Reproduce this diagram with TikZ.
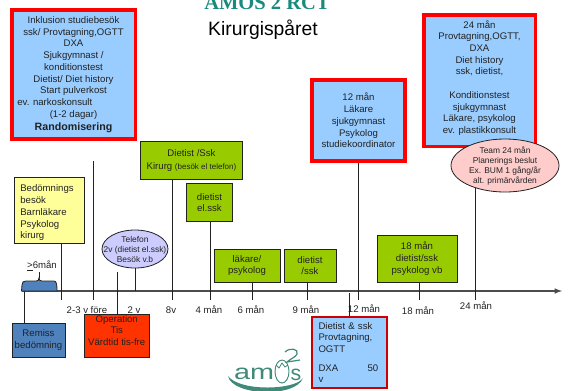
\documentclass[tikz,border=0pt]{standalone}
\usepackage{fontspec}
\setmainfont{Liberation Sans}
\usepackage{amsmath,amssymb}
\usetikzlibrary{arrows,shapes.geometric}

\definecolor{boxblue}{HTML}{99CCFF}
\definecolor{boxgreen}{HTML}{99CC00}
\definecolor{boxyellow}{HTML}{FFFF99}
\definecolor{boxlilac}{HTML}{CCCCFF}
\definecolor{boxpink}{HTML}{FFCCCC}
\definecolor{boxsteel}{HTML}{4F81BD}
\definecolor{boxorange}{HTML}{FF3300}
\definecolor{amosteal}{HTML}{1B8A7E}
\definecolor{logogreen}{HTML}{3F8A78}
\definecolor{inkgrey}{HTML}{222222}

% text of an ellipse, takes no room so the ellipse keeps its size
\newcommand{\ovaltext}[1]{\smash{\raisebox{-2.6pt}{\makebox[0pt]{\begin{tabular}{@{}c@{}}#1\end{tabular}}}}}

\tikzset{
  boxtext/.style={font=\fontsize{7.2}{8.8}\selectfont, text=inkgrey, align=center, inner sep=0pt},
  redbox/.style={boxtext, draw=red, line width=2.6pt, fill=boxblue},
  greenbox/.style={boxtext, draw=inkgrey, line width=0.7pt, fill=boxgreen},
  plainbox/.style={boxtext, draw=inkgrey, line width=0.7pt},
  oval/.style={boxtext, ellipse, draw=inkgrey, line width=0.6pt, font=\fontsize{6.3}{7.5}\selectfont},
  time/.style={boxtext, text=inkgrey},
  tick/.style={draw=inkgrey, line width=0.7pt},
}

\begin{document}
\begin{tikzpicture}[x=0.75pt,y=-0.75pt]
        \useasboundingbox (0,0) rectangle (570,390);

        \node[font=\fontsize{15.4}{18}\bfseries\selectfont, text=amosteal, anchor=base] (amos) at (267,9) {\fontspec{Liberation Serif}AMOS 2 RCT};
        \node[font=\fontsize{14.5}{16}\selectfont, text=black] (title) at (263,30) {Kirurgispåret};

        \node[redbox, minimum width=92.6pt, minimum height=97pt] (inklusion) at (73.5,74.5) {Inklusion  studiebesök\\ssk/ Provtagning,OGTT\\DXA\\Sjukgymnast /\\konditionstest\\Dietist/ Diet history\\Start pulverkost\\ev. narkoskonsult\makebox[28pt]{}\\(1-2 dagar)\\[1pt]{\fontsize{8}{9}\bfseries\selectfont Randomisering}};
        \node[redbox, minimum width=70pt, minimum height=61pt] (m12) at (358.5,120.5) {12 mån\\Läkare\\sjukgymnast\\Psykolog\\studiekoordinator};
        \node[redbox, minimum width=83.6pt, minimum height=98.6pt] (m24) at (479.5,80.5) {24 mån\\Provtagning,OGTT,\\DXA\\Diet history\\ssk, dietist,\\[8.8pt]Konditionstest\\sjukgymnast\\Läkare,  psykolog\\ev. plastikkonsult\\[-3.5pt]\mbox{}};
        \node[oval, fill=boxpink, minimum width=81pt, minimum height=39.75pt] (team) at (505,165.5) {\ovaltext{Team 24 mån\\Planerings beslut\\Ex. BUM  1 gång/år\\alt. primärvården}};

        \node[greenbox, minimum width=77pt, minimum height=28pt] (kirurg) at (191.5,160.5) {Dietist /Ssk\\[1pt]Kirurg  {\fontsize{6}{7}\selectfont (besök el telefon)}};
        \node[greenbox, minimum width=35pt, minimum height=28pt] (diet4) at (209.5,202.5) {dietist\\el.ssk};
        \node[greenbox, minimum width=49.5pt, minimum height=24.75pt] (lakare) at (247,265.5) {läkare/\\psykolog};
        \node[greenbox, minimum width=39pt, minimum height=24.75pt] (diet9) at (310,265.5) {dietist\\/ssk};
        \node[greenbox, minimum width=60pt, minimum height=35.25pt] (m18) at (417,258.5) {18 mån\\dietist/ssk\\psykolog  vb};

        \node[plainbox, fill=boxyellow, minimum width=52.5pt, minimum height=49.5pt, align=left, text width=43pt] (bedomning) at (49,210) {\rule{0pt}{9.5pt}Bedömnings\\besök\\Barnläkare\\Psykolog\\kirurg};
        \node[oval, fill=boxlilac, minimum width=49.5pt, minimum height=28.5pt] (telefon) at (135,249) {\ovaltext{Telefon\\2v (dietist el.ssk)\\Besök v.b}};
        \node[plainbox, fill=boxsteel, minimum width=39.75pt, minimum height=25.5pt] (remiss) at (38.5,340) {Remiss\\bedömning};
        \node[plainbox, fill=boxorange, minimum width=49pt, minimum height=32.25pt] (operation) at (116.75,335.5) {Operation\\Tis\\Värdtid  tis-fre\\[-1pt]\mbox{}};
        \node[redbox, draw=red!80!black, line width=1.5pt, minimum width=56.25pt, minimum height=53.25pt, align=left, text width=46.5pt] (dietssk) at (349.5,352.5) {Dietist \& ssk\\Provtagning,\\OGTT\\[5pt]DXA\hspace{22pt}50\\v};

        % axis
        \coordinate (start) at (22,291);
        \coordinate (end) at (562,291);
        \draw[-latex, draw=black!70, line width=0.9pt] (start) -- (end);

        % tick ends
        \coordinate (t0) at (61,300);
        \coordinate (t1) at (93,300);
        \coordinate (t1top) at (93,161);
        \coordinate (t2) at (135,291);
        \coordinate (t8) at (172,300);
        \coordinate (t4) at (210,300);
        \coordinate (t6) at (252,300);
        \coordinate (t9) at (307,300);
        \coordinate (t12) at (358,300);
        \coordinate (t18) at (419,300);
        \coordinate (t24) at (475,300);
        \coordinate (t24top) at (475,187.5);
        \coordinate (opertop) at (117,272);
        \coordinate (diettop) at (349,293);
        \coordinate (remtop) at (24,291);

        \draw[tick] (bedomning.south -| t0) -- (t0);
        \draw[tick] (t1top) -- (t1);
        \draw[tick] (telefon) -- (t2);
        \draw[tick] (kirurg.south -| t8) -- (t8);
        \draw[tick] (diet4.south -| t4) -- (t4);
        \draw[tick] (lakare.south -| t6) -- (t6);
        \draw[tick] (diet9.south -| t9) -- (t9);
        \draw[tick] (m12.south -| t12) -- (t12);
        \draw[tick] (m18.south -| t18) -- (t18);
        \draw[tick] (t24top) -- (t24);
        \draw[tick] (operation.north -| opertop) -- (opertop);
        \draw[tick] (dietssk.north -| diettop) -- (diettop);
        \draw[tick] (remiss.north -| remtop) -- (remtop);

        % bracket above the axis
        \coordinate (brtop) at (39,272);
        \draw[fill=boxsteel, draw=inkgrey, line width=0.6pt] (21.5,291) -- (22,285) .. controls (22.3,282) and (23,281) .. (26,281) -- (36,281) .. controls (38,281) and (39,280) .. (39,278) .. controls (39,280) and (40,281) .. (42,281) -- (54,281) .. controls (56,281) and (57,283) .. (57,291) -- cycle;
        \draw[tick] (brtop) -- (39,278);
        \node[time] (sexman) at (42,266) {\underline{>}6mån};

        \node[time] (l23) at (87,310) {2-3 v före};
        \node[time] (l2) at (134,310) {2 v};
        \node[time] (l8) at (171,310) {8v};
        \node[time] (l4) at (209,310) {4 mån};
        \node[time] (l6) at (251,310) {6 mån};
        \node[time] (l9) at (306,310) {9 mån};
        \node[time] (l12) at (364,309) {12 mån};
        \node[time] (l18) at (418,311) {18 mån};
        \node[time] (l24) at (476,306) {24 mån};

        % logo
        \node[font=\fontsize{16}{18}\selectfont, text=logogreen, inner sep=0pt, anchor=base] (logoam) at (254,379) {\scalebox{1.35}[1]{am}};
        \node[font=\fontsize{16}{18}\selectfont, text=logogreen, inner sep=0pt, anchor=base] (logos) at (296,380) {s};
        \draw[logogreen, line width=0.7pt] (282,371.5) ellipse (7 and 11.5);
        \draw[logogreen, line width=0.6pt] (276,365) -- (279,368) -- (282,363) -- (285,367) -- (288,365);
        \draw[logogreen, line width=0.9pt] (285,352) .. controls (290,347) and (299,349) .. (297,354) .. controls (296,357) and (290,359) .. (287,362) -- (300,360);
        \fill[logogreen] (228,376) .. controls (232,396) and (296,398) .. (303,378) .. controls (296,390) and (240,392) .. (228,376) -- cycle;
      \end{tikzpicture}
\end{document}
